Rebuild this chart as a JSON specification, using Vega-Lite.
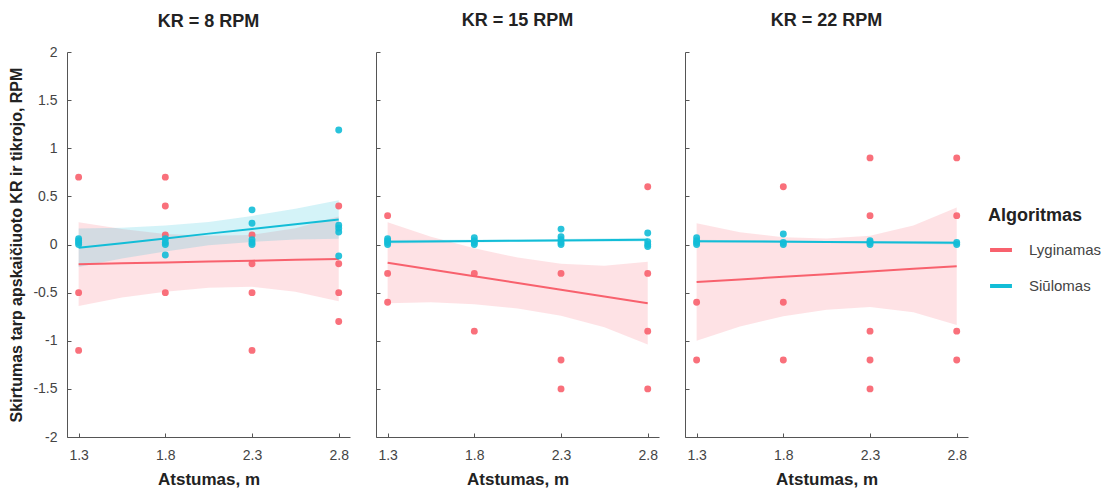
{
  "$schema": "https://vega.github.io/schema/vega-lite/v6.json",
  "padding": {"left": 8, "top": 12, "right": 140, "bottom": 5},
  "background": "white",
  "datasets": {
    "pts": [
      {"panel": "8", "algo": "Lyginamas", "x": 1.3, "y": 0.7},
      {"panel": "8", "algo": "Lyginamas", "x": 1.3, "y": -0.5},
      {"panel": "8", "algo": "Lyginamas", "x": 1.3, "y": -1.1},
      {"panel": "8", "algo": "Lyginamas", "x": 1.8, "y": 0.7},
      {"panel": "8", "algo": "Lyginamas", "x": 1.8, "y": 0.4},
      {"panel": "8", "algo": "Lyginamas", "x": 1.8, "y": 0.1},
      {"panel": "8", "algo": "Lyginamas", "x": 1.8, "y": -0.5},
      {"panel": "8", "algo": "Lyginamas", "x": 2.3, "y": 0.1},
      {"panel": "8", "algo": "Lyginamas", "x": 2.3, "y": -0.2},
      {"panel": "8", "algo": "Lyginamas", "x": 2.3, "y": -0.5},
      {"panel": "8", "algo": "Lyginamas", "x": 2.3, "y": -1.1},
      {"panel": "8", "algo": "Lyginamas", "x": 2.8, "y": 0.4},
      {"panel": "8", "algo": "Lyginamas", "x": 2.8, "y": -0.2},
      {"panel": "8", "algo": "Lyginamas", "x": 2.8, "y": -0.5},
      {"panel": "8", "algo": "Lyginamas", "x": 2.8, "y": -0.8},
      {"panel": "8", "algo": "Siūlomas", "x": 1.3, "y": 0.0},
      {"panel": "8", "algo": "Siūlomas", "x": 1.3, "y": 0.02},
      {"panel": "8", "algo": "Siūlomas", "x": 1.3, "y": 0.04},
      {"panel": "8", "algo": "Siūlomas", "x": 1.3, "y": 0.06},
      {"panel": "8", "algo": "Siūlomas", "x": 1.8, "y": 0.06},
      {"panel": "8", "algo": "Siūlomas", "x": 1.8, "y": 0.02},
      {"panel": "8", "algo": "Siūlomas", "x": 1.8, "y": 0.0},
      {"panel": "8", "algo": "Siūlomas", "x": 1.8, "y": -0.11},
      {"panel": "8", "algo": "Siūlomas", "x": 2.3, "y": 0.36},
      {"panel": "8", "algo": "Siūlomas", "x": 2.3, "y": 0.22},
      {"panel": "8", "algo": "Siūlomas", "x": 2.3, "y": 0.05},
      {"panel": "8", "algo": "Siūlomas", "x": 2.3, "y": 0.02},
      {"panel": "8", "algo": "Siūlomas", "x": 2.3, "y": 0.0},
      {"panel": "8", "algo": "Siūlomas", "x": 2.8, "y": 1.19},
      {"panel": "8", "algo": "Siūlomas", "x": 2.8, "y": 0.2},
      {"panel": "8", "algo": "Siūlomas", "x": 2.8, "y": 0.17},
      {"panel": "8", "algo": "Siūlomas", "x": 2.8, "y": 0.13},
      {"panel": "8", "algo": "Siūlomas", "x": 2.8, "y": -0.12},
      {"panel": "15", "algo": "Lyginamas", "x": 1.3, "y": 0.3},
      {"panel": "15", "algo": "Lyginamas", "x": 1.3, "y": -0.3},
      {"panel": "15", "algo": "Lyginamas", "x": 1.3, "y": -0.6},
      {"panel": "15", "algo": "Lyginamas", "x": 1.8, "y": -0.3},
      {"panel": "15", "algo": "Lyginamas", "x": 1.8, "y": -0.9},
      {"panel": "15", "algo": "Lyginamas", "x": 2.3, "y": -0.3},
      {"panel": "15", "algo": "Lyginamas", "x": 2.3, "y": -1.2},
      {"panel": "15", "algo": "Lyginamas", "x": 2.3, "y": -1.5},
      {"panel": "15", "algo": "Lyginamas", "x": 2.8, "y": 0.6},
      {"panel": "15", "algo": "Lyginamas", "x": 2.8, "y": -0.3},
      {"panel": "15", "algo": "Lyginamas", "x": 2.8, "y": -0.9},
      {"panel": "15", "algo": "Lyginamas", "x": 2.8, "y": -1.5},
      {"panel": "15", "algo": "Siūlomas", "x": 1.3, "y": 0.0},
      {"panel": "15", "algo": "Siūlomas", "x": 1.3, "y": 0.02},
      {"panel": "15", "algo": "Siūlomas", "x": 1.3, "y": 0.04},
      {"panel": "15", "algo": "Siūlomas", "x": 1.3, "y": 0.06},
      {"panel": "15", "algo": "Siūlomas", "x": 1.8, "y": 0.0},
      {"panel": "15", "algo": "Siūlomas", "x": 1.8, "y": 0.02},
      {"panel": "15", "algo": "Siūlomas", "x": 1.8, "y": 0.04},
      {"panel": "15", "algo": "Siūlomas", "x": 1.8, "y": 0.07},
      {"panel": "15", "algo": "Siūlomas", "x": 2.3, "y": 0.16},
      {"panel": "15", "algo": "Siūlomas", "x": 2.3, "y": 0.08},
      {"panel": "15", "algo": "Siūlomas", "x": 2.3, "y": 0.05},
      {"panel": "15", "algo": "Siūlomas", "x": 2.3, "y": 0.02},
      {"panel": "15", "algo": "Siūlomas", "x": 2.3, "y": 0.0},
      {"panel": "15", "algo": "Siūlomas", "x": 2.8, "y": 0.12},
      {"panel": "15", "algo": "Siūlomas", "x": 2.8, "y": 0.03},
      {"panel": "15", "algo": "Siūlomas", "x": 2.8, "y": 0.0},
      {"panel": "15", "algo": "Siūlomas", "x": 2.8, "y": -0.02},
      {"panel": "22", "algo": "Lyginamas", "x": 1.3, "y": -0.6},
      {"panel": "22", "algo": "Lyginamas", "x": 1.3, "y": -1.2},
      {"panel": "22", "algo": "Lyginamas", "x": 1.8, "y": 0.6},
      {"panel": "22", "algo": "Lyginamas", "x": 1.8, "y": -0.6},
      {"panel": "22", "algo": "Lyginamas", "x": 1.8, "y": -1.2},
      {"panel": "22", "algo": "Lyginamas", "x": 2.3, "y": 0.9},
      {"panel": "22", "algo": "Lyginamas", "x": 2.3, "y": 0.3},
      {"panel": "22", "algo": "Lyginamas", "x": 2.3, "y": -0.9},
      {"panel": "22", "algo": "Lyginamas", "x": 2.3, "y": -1.2},
      {"panel": "22", "algo": "Lyginamas", "x": 2.3, "y": -1.5},
      {"panel": "22", "algo": "Lyginamas", "x": 2.8, "y": 0.9},
      {"panel": "22", "algo": "Lyginamas", "x": 2.8, "y": 0.3},
      {"panel": "22", "algo": "Lyginamas", "x": 2.8, "y": -0.9},
      {"panel": "22", "algo": "Lyginamas", "x": 2.8, "y": -1.2},
      {"panel": "22", "algo": "Siūlomas", "x": 1.3, "y": 0.0},
      {"panel": "22", "algo": "Siūlomas", "x": 1.3, "y": 0.02},
      {"panel": "22", "algo": "Siūlomas", "x": 1.3, "y": 0.04},
      {"panel": "22", "algo": "Siūlomas", "x": 1.3, "y": 0.07},
      {"panel": "22", "algo": "Siūlomas", "x": 1.8, "y": 0.11},
      {"panel": "22", "algo": "Siūlomas", "x": 1.8, "y": 0.02},
      {"panel": "22", "algo": "Siūlomas", "x": 1.8, "y": 0.0},
      {"panel": "22", "algo": "Siūlomas", "x": 2.3, "y": 0.04},
      {"panel": "22", "algo": "Siūlomas", "x": 2.3, "y": 0.02},
      {"panel": "22", "algo": "Siūlomas", "x": 2.3, "y": 0.0},
      {"panel": "22", "algo": "Siūlomas", "x": 2.8, "y": 0.02},
      {"panel": "22", "algo": "Siūlomas", "x": 2.8, "y": 0.0}
    ],
    "fit": [
      {"panel": "8", "algo": "Lyginamas", "x": 1.3, "y": -0.205, "lo": -0.64, "hi": 0.23},
      {"panel": "8", "algo": "Lyginamas", "x": 1.55, "y": -0.196, "lo": -0.55, "hi": 0.16},
      {"panel": "8", "algo": "Lyginamas", "x": 1.8, "y": -0.187, "lo": -0.49, "hi": 0.11},
      {"panel": "8", "algo": "Lyginamas", "x": 2.05, "y": -0.177, "lo": -0.45, "hi": 0.09},
      {"panel": "8", "algo": "Lyginamas", "x": 2.3, "y": -0.168, "lo": -0.44, "hi": 0.1},
      {"panel": "8", "algo": "Lyginamas", "x": 2.55, "y": -0.159, "lo": -0.49, "hi": 0.17},
      {"panel": "8", "algo": "Lyginamas", "x": 2.8, "y": -0.15, "lo": -0.59, "hi": 0.29},
      {"panel": "8", "algo": "Siūlomas", "x": 1.3, "y": -0.035, "lo": -0.235, "hi": 0.165},
      {"panel": "8", "algo": "Siūlomas", "x": 1.55, "y": 0.014, "lo": -0.146, "hi": 0.174},
      {"panel": "8", "algo": "Siūlomas", "x": 1.8, "y": 0.063, "lo": -0.072, "hi": 0.198},
      {"panel": "8", "algo": "Siūlomas", "x": 2.05, "y": 0.113, "lo": -0.007, "hi": 0.233},
      {"panel": "8", "algo": "Siūlomas", "x": 2.3, "y": 0.162, "lo": 0.027, "hi": 0.297},
      {"panel": "8", "algo": "Siūlomas", "x": 2.55, "y": 0.211, "lo": 0.051, "hi": 0.371},
      {"panel": "8", "algo": "Siūlomas", "x": 2.8, "y": 0.26, "lo": 0.06, "hi": 0.46},
      {"panel": "15", "algo": "Lyginamas", "x": 1.3, "y": -0.19, "lo": -0.61, "hi": 0.23},
      {"panel": "15", "algo": "Lyginamas", "x": 1.55, "y": -0.26, "lo": -0.6, "hi": 0.08},
      {"panel": "15", "algo": "Lyginamas", "x": 1.8, "y": -0.33, "lo": -0.62, "hi": -0.04},
      {"panel": "15", "algo": "Lyginamas", "x": 2.05, "y": -0.4, "lo": -0.665, "hi": -0.135},
      {"panel": "15", "algo": "Lyginamas", "x": 2.3, "y": -0.47, "lo": -0.74, "hi": -0.2},
      {"panel": "15", "algo": "Lyginamas", "x": 2.55, "y": -0.54, "lo": -0.86, "hi": -0.22},
      {"panel": "15", "algo": "Lyginamas", "x": 2.8, "y": -0.61, "lo": -1.04, "hi": -0.18},
      {"panel": "15", "algo": "Siūlomas", "x": 1.3, "y": 0.028, "lo": 0.01, "hi": 0.046},
      {"panel": "15", "algo": "Siūlomas", "x": 2.05, "y": 0.039, "lo": 0.027, "hi": 0.051},
      {"panel": "15", "algo": "Siūlomas", "x": 2.8, "y": 0.05, "lo": 0.03, "hi": 0.07},
      {"panel": "22", "algo": "Lyginamas", "x": 1.3, "y": -0.39, "lo": -1.0, "hi": 0.22},
      {"panel": "22", "algo": "Lyginamas", "x": 1.55, "y": -0.363, "lo": -0.853, "hi": 0.127},
      {"panel": "22", "algo": "Lyginamas", "x": 1.8, "y": -0.335, "lo": -0.745, "hi": 0.075},
      {"panel": "22", "algo": "Lyginamas", "x": 2.05, "y": -0.308, "lo": -0.678, "hi": 0.062},
      {"panel": "22", "algo": "Lyginamas", "x": 2.3, "y": -0.28, "lo": -0.65, "hi": 0.09},
      {"panel": "22", "algo": "Lyginamas", "x": 2.55, "y": -0.253, "lo": -0.703, "hi": 0.197},
      {"panel": "22", "algo": "Lyginamas", "x": 2.8, "y": -0.226, "lo": -0.836, "hi": 0.384},
      {"panel": "22", "algo": "Siūlomas", "x": 1.3, "y": 0.035, "lo": 0.02, "hi": 0.05},
      {"panel": "22", "algo": "Siūlomas", "x": 2.05, "y": 0.026, "lo": 0.016, "hi": 0.036},
      {"panel": "22", "algo": "Siūlomas", "x": 2.8, "y": 0.017, "lo": 0.0, "hi": 0.034}
    ]
  },
  "spacing": 25,
  "hconcat": [
    {
      "width": 283, "height": 385,
      "title": {"text": "KR = 8 RPM", "offset": 14},
      "layer": [
        {
          "data": {"name": "fit"},
          "transform": [{"filter": "datum.panel == '8'"}],
          "mark": {"type": "area", "opacity": 0.18},
          "encoding": {
            "x": {"field": "x", "type": "quantitative", "scale": {"domain": [1.233, 2.865], "nice": false, "zero": false}, "axis": {"title": "Atstumas, m", "values": [1.3, 1.8, 2.3, 2.8], "labelExpr": "format(datum.value, '.1f')"}},
            "y": {"field": "lo", "type": "quantitative", "scale": {"domain": [-2, 2], "nice": false}, "axis": {"title": "Skirtumas tarp apskaičiuoto KR ir tikrojo, RPM", "values": [-2, -1.5, -1, -0.5, 0, 0.5, 1, 1.5, 2], "labelExpr": "'' + datum.value"}},
            "y2": {"field": "hi"},
            "fill": {"field": "algo", "type": "nominal", "scale": {"domain": ["Siūlomas", "Lyginamas"], "range": ["#12BDD7", "#F8616D"]}, "legend": null}
          }
        },
        {
          "data": {"name": "fit"},
          "transform": [{"filter": "datum.panel == '8'"}],
          "mark": {"type": "line", "strokeWidth": 2},
          "encoding": {
            "x": {"field": "x", "type": "quantitative"},
            "y": {"field": "y", "type": "quantitative"},
            "color": {
              "field": "algo", "type": "nominal",
              "scale": {"domain": ["Lyginamas", "Siūlomas"], "range": ["#F8616D", "#12BDD7"]},
              "legend": {"title": "Algoritmas", "orient": "none", "legendX": 921, "legendY": 155, "symbolType": "stroke"}
            }
          }
        },
        {
          "data": {"name": "pts"},
          "transform": [{"filter": "datum.panel == '8'"}],
          "mark": {"type": "circle", "size": 48, "opacity": 0.9},
          "encoding": {
            "x": {"field": "x", "type": "quantitative"},
            "y": {"field": "y", "type": "quantitative"},
            "fill": {"field": "algo", "type": "nominal", "legend": null}
          }
        }
      ]
    },
    {
      "width": 283, "height": 385,
      "title": {"text": "KR = 15 RPM", "offset": 21.5},
      "layer": [
        {
          "data": {"name": "fit"},
          "transform": [{"filter": "datum.panel == '15'"}],
          "mark": {"type": "area", "opacity": 0.18},
          "encoding": {
            "x": {"field": "x", "type": "quantitative", "scale": {"domain": [1.233, 2.865], "nice": false, "zero": false}, "axis": {"title": "Atstumas, m", "values": [1.3, 1.8, 2.3, 2.8], "labelExpr": "format(datum.value, '.1f')"}},
            "y": {"field": "lo", "type": "quantitative", "scale": {"domain": [-2, 2], "nice": false}, "axis": {"title": null, "labels": false, "values": [-2, -1.5, -1, -0.5, 0, 0.5, 1, 1.5, 2]}},
            "y2": {"field": "hi"},
            "fill": {"field": "algo", "type": "nominal", "legend": null}
          }
        },
        {
          "data": {"name": "fit"},
          "transform": [{"filter": "datum.panel == '15'"}],
          "mark": {"type": "line", "strokeWidth": 2},
          "encoding": {
            "x": {"field": "x", "type": "quantitative"},
            "y": {"field": "y", "type": "quantitative"},
            "color": {"field": "algo", "type": "nominal"}
          }
        },
        {
          "data": {"name": "pts"},
          "transform": [{"filter": "datum.panel == '15'"}],
          "mark": {"type": "circle", "size": 48, "opacity": 0.9},
          "encoding": {
            "x": {"field": "x", "type": "quantitative"},
            "y": {"field": "y", "type": "quantitative"},
            "fill": {"field": "algo", "type": "nominal", "legend": null}
          }
        }
      ]
    },
    {
      "width": 283, "height": 385,
      "title": {"text": "KR = 22 RPM", "offset": 21.5},
      "layer": [
        {
          "data": {"name": "fit"},
          "transform": [{"filter": "datum.panel == '22'"}],
          "mark": {"type": "area", "opacity": 0.18},
          "encoding": {
            "x": {"field": "x", "type": "quantitative", "scale": {"domain": [1.233, 2.865], "nice": false, "zero": false}, "axis": {"title": "Atstumas, m", "values": [1.3, 1.8, 2.3, 2.8], "labelExpr": "format(datum.value, '.1f')"}},
            "y": {"field": "lo", "type": "quantitative", "scale": {"domain": [-2, 2], "nice": false}, "axis": {"title": null, "labels": false, "values": [-2, -1.5, -1, -0.5, 0, 0.5, 1, 1.5, 2]}},
            "y2": {"field": "hi"},
            "fill": {"field": "algo", "type": "nominal", "legend": null}
          }
        },
        {
          "data": {"name": "fit"},
          "transform": [{"filter": "datum.panel == '22'"}],
          "mark": {"type": "line", "strokeWidth": 2},
          "encoding": {
            "x": {"field": "x", "type": "quantitative"},
            "y": {"field": "y", "type": "quantitative"},
            "color": {"field": "algo", "type": "nominal"}
          }
        },
        {
          "data": {"name": "pts"},
          "transform": [{"filter": "datum.panel == '22'"}],
          "mark": {"type": "circle", "size": 48, "opacity": 0.9},
          "encoding": {
            "x": {"field": "x", "type": "quantitative"},
            "y": {"field": "y", "type": "quantitative"},
            "fill": {"field": "algo", "type": "nominal", "legend": null}
          }
        }
      ]
    }
  ],
  "config": {
    "font": "Liberation Sans",
    "view": {"stroke": null},
    "title": {"fontSize": 18, "fontWeight": "bold", "color": "#222", "anchor": "middle"},
    "axis": {
      "grid": false,
      "domainColor": "#555",
      "tickColor": "#555",
      "tickSize": -4,
      "labelColor": "#444",
      "labelFontSize": 14,
      "labelPadding": 14,
      "titleFontSize": 17,
      "titleFontWeight": "bold",
      "titleColor": "#222"
    },
    "axisX": {"titlePadding": 9, "labelPadding": 15},
    "axisY": {"titlePadding": 8, "titleFontSize": 16},
    "legend": {
      "titleFontSize": 18,
      "titleFontWeight": "bold",
      "titleColor": "#222",
      "titlePadding": 12,
      "labelFontSize": 15,
      "labelColor": "#444",
      "labelOffset": 15,
      "symbolStrokeWidth": 4,
      "symbolSize": 480,
      "rowPadding": 15
    }
  }
}
